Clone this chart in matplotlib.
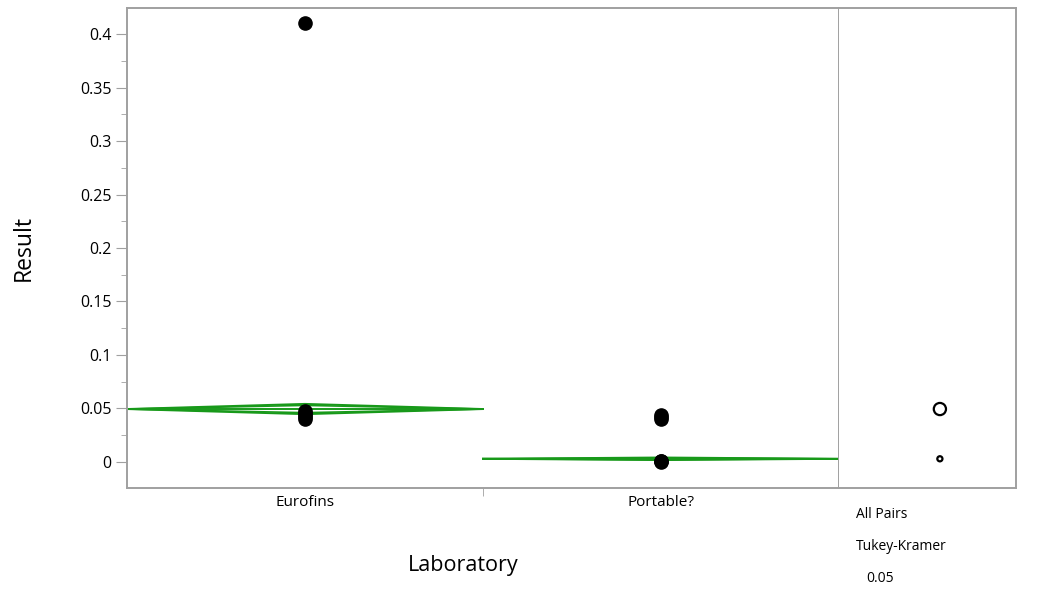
import numpy as np
import matplotlib.pyplot as plt
from matplotlib.patches import Ellipse

plt.rcParams['font.family'] = ['Open Sans', 'DejaVu Sans']

# Data
labs = ['Eurofins', 'Portable?']
eurofins = [0.41, 0.048, 0.046, 0.044, 0.042, 0.040]
portable = [0.044, 0.042, 0.040, 0.001, 0.001, 0.0]
means = [0.0495, 0.003]
ci_half = [0.0048, 0.0012]   # 95% CI half width (means diamonds)
circle_r = [0.0057, 0.0024]  # Tukey-Kramer comparison circle radius

yticks = [0, 0.05, 0.1, 0.15, 0.2, 0.25, 0.3, 0.35, 0.4]
ytick_labels = ['0', '0.05', '0.1', '0.15', '0.2', '0.25', '0.3', '0.35', '0.4']

grey = '#a0a0a0'
green = '#18991a'
ylim = (-0.0243, 0.4243)

fig = plt.figure(figsize=(10.45, 5.92), dpi=100)
ax = fig.add_axes([127/1045, 104/592, 712/1045, 480/592])
ax2 = fig.add_axes([839/1045, 104/592, 177/1045, 480/592])

# means diamonds
for i, (m, c) in enumerate(zip(means, ci_half)):
    x0, x1 = i - 0.5, i + 0.5
    ax.plot([x0, i, x1, i, x0], [m, m + c, m, m - c, m], color=green, lw=1.4, zorder=2)
    o = c / np.sqrt(2)
    ax.plot([x0, i, x1], [m, m + o, m], color=green, lw=1.2, zorder=2)
    ax.plot([x0, i, x1], [m, m - o, m], color=green, lw=1.2, zorder=2)
    ax.plot([x0, x1], [m, m], color=green, lw=1.4, zorder=2)

for i, vals in enumerate([eurofins, portable]):
    ax.plot([i] * len(vals), vals, 'o', color='black', ms=9.5, zorder=3)

ax.set_xlim(-0.5, 1.5)
ax.set_ylim(*ylim)
ax.set_yticks(yticks)
ax.set_yticklabels(ytick_labels)
ax.set_yticks(np.arange(0.025, 0.42, 0.05), minor=True)
ax.set_xticks([0, 1])
ax.set_xticklabels(labs)
ax.set_xticks([0.5], minor=True)
ax.tick_params(axis='x', which='major', length=0, pad=5, labelsize=11)
ax.tick_params(axis='x', which='minor', length=6, color=grey)
ax.tick_params(axis='y', which='major', length=8, color=grey, labelsize=11.5, pad=3)
ax.tick_params(axis='y', which='minor', length=4, color=grey)
for s in ax.spines.values():
    s.set_color(grey)
    s.set_linewidth(1.4)

fig.text(463/1045, 1 - 565/592, 'Laboratory', fontsize=15.5, ha='center', va='center')
fig.text(24/1045, 1 - 248/592, 'Result', fontsize=16.5, rotation=90,
         ha='center', va='center')

# comparison circles panel
ax2.set_xlim(0, 1)
ax2.set_ylim(*ylim)
ax2.set_xticks([])
ax2.set_yticks([])
for s in ax2.spines.values():
    s.set_color(grey)
    s.set_linewidth(1.4)
ax2.spines['left'].set_visible(False)
asp = (1 / 177) / ((ylim[1] - ylim[0]) / 480)
for m, r in zip(means, circle_r):
    ax2.add_patch(Ellipse((0.57, m), 2 * r * asp, 2 * r, fill=False,
                          ec='black', lw=1.6))

fig.text(856/1045, 1 - 515/592, 'All Pairs', fontsize=10, va='center')
fig.text(856/1045, 1 - 547/592, 'Tukey-Kramer', fontsize=10, va='center')
fig.text(866/1045, 1 - 578/592, '0.05', fontsize=10, va='center')

fig.savefig('out.png', dpi=100)
